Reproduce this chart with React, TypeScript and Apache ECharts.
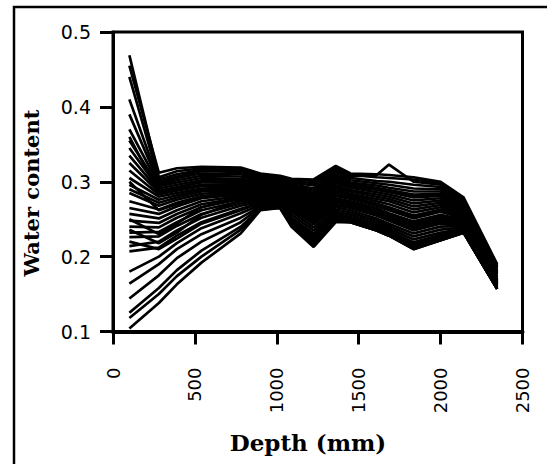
import React, { useEffect, useRef } from "react";
import * as echarts from "echarts";

// Depths (mm) at which the water content profiles were read
const depth = [100, 280, 390, 540, 780, 900, 1020, 1090, 1225, 1360, 1450, 1610, 1685, 1835, 2000, 2140, 2345];

// Wet profiles (high water content near the surface)
const w01 = [0.469, 0.306, 0.314, 0.318, 0.318, 0.310, 0.306, 0.303, 0.301, 0.318, 0.309, 0.306, 0.305, 0.303, 0.298, 0.277, 0.189];
const w02 = [0.455, 0.312, 0.318, 0.320, 0.319, 0.311, 0.308, 0.304, 0.303, 0.321, 0.311, 0.310, 0.309, 0.306, 0.300, 0.279, 0.190];
const w03 = [0.440, 0.303, 0.310, 0.316, 0.316, 0.308, 0.304, 0.301, 0.298, 0.316, 0.307, 0.309, 0.323, 0.300, 0.296, 0.275, 0.187];
const w04 = [0.410, 0.300, 0.307, 0.314, 0.313, 0.306, 0.302, 0.299, 0.295, 0.313, 0.305, 0.301, 0.300, 0.296, 0.293, 0.273, 0.186];
const w05 = [0.390, 0.298, 0.305, 0.311, 0.310, 0.304, 0.300, 0.297, 0.291, 0.310, 0.302, 0.298, 0.296, 0.291, 0.290, 0.271, 0.184];
const w06 = [0.370, 0.296, 0.302, 0.308, 0.307, 0.302, 0.298, 0.295, 0.288, 0.307, 0.299, 0.295, 0.292, 0.287, 0.287, 0.269, 0.182];
const w07 = [0.355, 0.294, 0.299, 0.305, 0.304, 0.300, 0.296, 0.293, 0.285, 0.304, 0.297, 0.292, 0.289, 0.283, 0.284, 0.267, 0.180];
const w08 = [0.345, 0.291, 0.296, 0.302, 0.302, 0.298, 0.294, 0.291, 0.282, 0.301, 0.294, 0.289, 0.286, 0.279, 0.281, 0.265, 0.178];
const w09 = [0.335, 0.288, 0.293, 0.299, 0.299, 0.296, 0.292, 0.289, 0.279, 0.298, 0.292, 0.286, 0.283, 0.275, 0.278, 0.263, 0.176];
const w10 = [0.325, 0.286, 0.290, 0.296, 0.297, 0.294, 0.290, 0.287, 0.276, 0.295, 0.289, 0.283, 0.280, 0.271, 0.275, 0.261, 0.174];
const w11 = [0.315, 0.283, 0.288, 0.294, 0.295, 0.292, 0.289, 0.285, 0.273, 0.292, 0.287, 0.280, 0.277, 0.267, 0.272, 0.259, 0.172];
const w12 = [0.305, 0.280, 0.285, 0.291, 0.293, 0.290, 0.287, 0.283, 0.270, 0.290, 0.284, 0.277, 0.274, 0.263, 0.269, 0.257, 0.170];
const w13 = [0.360, 0.285, 0.292, 0.300, 0.300, 0.297, 0.293, 0.289, 0.283, 0.303, 0.296, 0.290, 0.287, 0.281, 0.283, 0.266, 0.179];

// Intermediate profiles
const m01 = [0.296, 0.276, 0.282, 0.289, 0.291, 0.289, 0.286, 0.281, 0.267, 0.287, 0.282, 0.274, 0.270, 0.259, 0.266, 0.255, 0.169];
const m02 = [0.290, 0.272, 0.279, 0.287, 0.289, 0.287, 0.285, 0.279, 0.264, 0.284, 0.279, 0.271, 0.266, 0.255, 0.263, 0.253, 0.168];
const m03 = [0.285, 0.268, 0.276, 0.284, 0.287, 0.286, 0.283, 0.277, 0.261, 0.281, 0.277, 0.268, 0.262, 0.251, 0.260, 0.251, 0.167];
const m04 = [0.274, 0.263, 0.272, 0.281, 0.285, 0.284, 0.282, 0.275, 0.258, 0.278, 0.274, 0.265, 0.258, 0.247, 0.256, 0.249, 0.166];
const m05 = [0.265, 0.257, 0.267, 0.278, 0.283, 0.283, 0.280, 0.273, 0.255, 0.275, 0.271, 0.262, 0.255, 0.243, 0.252, 0.247, 0.165];
const m06 = [0.257, 0.251, 0.262, 0.274, 0.281, 0.281, 0.279, 0.270, 0.251, 0.272, 0.268, 0.258, 0.251, 0.239, 0.248, 0.245, 0.164];
const m07 = [0.248, 0.245, 0.257, 0.270, 0.279, 0.280, 0.277, 0.267, 0.247, 0.269, 0.265, 0.255, 0.248, 0.235, 0.244, 0.243, 0.163];
const m08 = [0.240, 0.239, 0.252, 0.266, 0.277, 0.278, 0.276, 0.264, 0.243, 0.266, 0.262, 0.251, 0.244, 0.231, 0.240, 0.241, 0.162];
const m09 = [0.232, 0.233, 0.246, 0.262, 0.274, 0.277, 0.274, 0.260, 0.239, 0.263, 0.259, 0.248, 0.241, 0.227, 0.236, 0.239, 0.161];
const m10 = [0.226, 0.227, 0.241, 0.257, 0.271, 0.275, 0.273, 0.256, 0.235, 0.260, 0.256, 0.245, 0.238, 0.223, 0.232, 0.237, 0.160];
const m11 = [0.214, 0.220, 0.235, 0.252, 0.268, 0.273, 0.271, 0.252, 0.231, 0.257, 0.253, 0.242, 0.235, 0.219, 0.229, 0.236, 0.159];
const m12 = [0.300, 0.262, 0.270, 0.280, 0.286, 0.286, 0.284, 0.278, 0.262, 0.283, 0.280, 0.270, 0.264, 0.253, 0.261, 0.252, 0.167];
const m13 = [0.250, 0.230, 0.244, 0.266, 0.280, 0.282, 0.281, 0.271, 0.253, 0.276, 0.273, 0.263, 0.256, 0.245, 0.254, 0.248, 0.165];
const m14 = [0.236, 0.218, 0.232, 0.256, 0.275, 0.279, 0.278, 0.266, 0.249, 0.273, 0.270, 0.259, 0.253, 0.241, 0.250, 0.246, 0.164];
const m15 = [0.220, 0.210, 0.224, 0.244, 0.262, 0.272, 0.272, 0.262, 0.245, 0.268, 0.266, 0.255, 0.250, 0.237, 0.246, 0.244, 0.163];

// Dry profiles (low water content near the surface)
const d01 = [0.207, 0.212, 0.228, 0.246, 0.264, 0.271, 0.270, 0.249, 0.228, 0.254, 0.251, 0.240, 0.233, 0.216, 0.227, 0.235, 0.158];
const d02 = [0.180, 0.200, 0.218, 0.238, 0.258, 0.269, 0.269, 0.246, 0.225, 0.252, 0.249, 0.238, 0.231, 0.214, 0.225, 0.234, 0.158];
const d03 = [0.164, 0.190, 0.210, 0.230, 0.252, 0.267, 0.268, 0.244, 0.222, 0.250, 0.248, 0.237, 0.230, 0.213, 0.224, 0.233, 0.157];
const d04 = [0.144, 0.175, 0.198, 0.220, 0.246, 0.266, 0.267, 0.243, 0.219, 0.249, 0.247, 0.236, 0.229, 0.212, 0.223, 0.233, 0.157];
const d05 = [0.125, 0.158, 0.182, 0.208, 0.240, 0.264, 0.266, 0.242, 0.216, 0.248, 0.246, 0.235, 0.228, 0.211, 0.222, 0.232, 0.157];
const d06 = [0.118, 0.150, 0.174, 0.200, 0.236, 0.263, 0.265, 0.241, 0.214, 0.247, 0.246, 0.235, 0.228, 0.210, 0.222, 0.232, 0.157];
const d07 = [0.104, 0.138, 0.163, 0.192, 0.231, 0.262, 0.265, 0.240, 0.213, 0.246, 0.246, 0.235, 0.228, 0.210, 0.222, 0.232, 0.157];

const profiles = [
  w01, w02, w03, w04, w05, w06, w07, w08, w09, w10, w11, w12, w13,
  m01, m02, m03, m04, m05, m06, m07, m08, m09, m10, m11, m12, m13, m14, m15,
  d01, d02, d03, d04, d05, d06, d07,
];

const xTitle = "Depth (mm)";
const yTitle = "Water content";

export default function App() {
  const ref = useRef<HTMLDivElement>(null);

  useEffect(() => {
    document.body.style.margin = "0";
    const chart = echarts.init(ref.current as HTMLDivElement, null, { renderer: "svg" });
    chart.setOption({
      animation: false,
      backgroundColor: "#ffffff",
      grid: {
        left: 113,
        right: 24.5,
        top: 32,
        bottom: 132.5,
        show: true,
        borderColor: "#000",
        borderWidth: 3,
        backgroundColor: "transparent",
      },
      xAxis: {
        type: "value",
        min: 0,
        max: 2500,
        interval: 500,
        axisLine: { show: true, onZero: false, lineStyle: { color: "#000", width: 4 } },
        axisTick: { show: true, inside: false, length: 13, lineStyle: { color: "#000", width: 3 } },
        axisLabel: {
          rotate: 90,
          margin: 36,
          color: "#000",
          fontFamily: "DejaVu Sans",
          fontSize: 18,
          formatter: (v: number) => String(v),
        },
        splitLine: { show: false },
      },
      yAxis: {
        type: "value",
        min: 0.1,
        max: 0.5,
        interval: 0.1,
        axisLine: { show: true, onZero: false, lineStyle: { color: "#000", width: 3 } },
        axisTick: { show: true, inside: false, length: 13, lineStyle: { color: "#000", width: 3 } },
        axisLabel: {
          margin: 22,
          color: "#000",
          fontFamily: "DejaVu Sans",
          fontSize: 19,
          formatter: (v: number) => v.toFixed(1),
        },
        splitLine: { show: false },
      },
      graphic: [
        {
          type: "rect",
          shape: { x: 14, y: 7, width: 620, height: 600 },
          style: { fill: "none", stroke: "#000", lineWidth: 2.5 },
          silent: true,
          z: -1,
        },
        {
          type: "text",
          x: 308,
          y: 442,
          style: {
            text: xTitle,
            font: 'bold 23px "DejaVu Serif"',
            fill: "#000",
            align: "center",
            verticalAlign: "middle",
          },
        },
        {
          type: "text",
          x: 31.5,
          y: 193,
          rotation: Math.PI / 2,
          style: {
            text: yTitle,
            font: 'bold 21px "DejaVu Serif"',
            fill: "#000",
            align: "center",
            verticalAlign: "middle",
          },
        },
      ],
      series: profiles.map((p, i) => ({
        name: "profile " + (i + 1),
        type: "line",
        data: depth.map((d, j) => [d, p[j]]),
        symbol: "none",
        silent: true,
        lineStyle: { color: "#000", width: 2.7 },
      })),
    });
    return () => chart.dispose();
  }, []);

  return (
    <div
      ref={ref}
      style={{ position: "absolute", left: 0, top: 0, width: 547, height: 464 }}
    />
  );
}
